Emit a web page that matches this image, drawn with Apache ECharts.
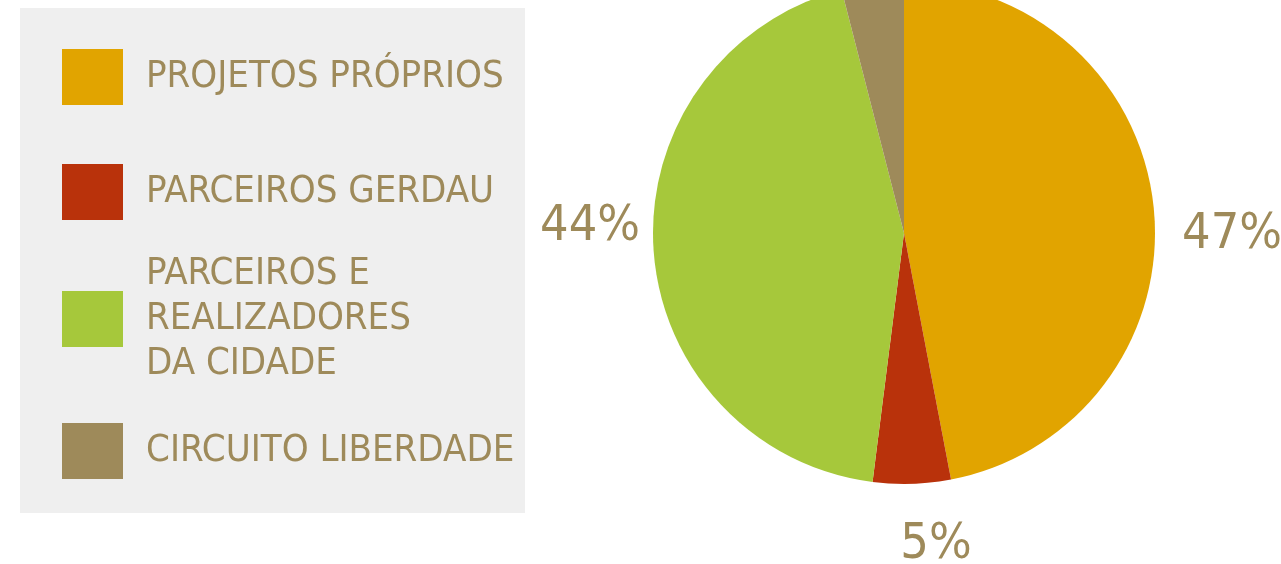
<!DOCTYPE html>
<html>
<head>
<meta charset="utf-8">
<script src="https://cdn.jsdelivr.net/npm/echarts@6/dist/echarts.min.js"></script>
<style>
  html, body { margin: 0; padding: 0; background: #fff; }
  #chart { width: 1281px; height: 564px; }
</style>
</head>
<body>
<div id="chart"></div>
<script>
// slice names and shares (%)
const categories = ['PROJETOS PRÓPRIOS', 'PARCEIROS GERDAU', 'PARCEIROS E\nREALIZADORES\nDA CIDADE', 'CIRCUITO LIBERDADE']
const shares = [47, 5, 44, 4]
const sliceColors = ['#e1a400', '#b9320b', '#a6c83b', '#9e8a5a']
const textColor = '#9e8a5a'
const fontFamily = '"Liberation Sans Narrow", "DejaVu Sans Condensed", Roboto, sans-serif'

// vertical centre of each legend swatch
const legendCenters = [77, 192, 319, 451]
// label anchor points (text centre); null = label hidden
const labelSpots = [[1232, 235], [936, 545], [590, 227], null]

const chart = echarts.init(document.getElementById('chart'))

const legends = categories.map((name, i) => {
  const lines = name.split('\n').length
  // multi-line text sits a little lower than the swatch
  const nudge = lines > 1 ? 10 : 0
  const half = Math.max(28, (lines * 45 + nudge) / 2)
  return {
    data: [name],
    left: 62,
    top: legendCenters[i] - half,
    padding: 0,
    orient: 'vertical',
    icon: 'rect',
    itemWidth: 61,
    itemHeight: 56,
    selectedMode: false,
    textStyle: {
      color: textColor,
      fontFamily: fontFamily,
      fontSize: 38,
      lineHeight: 45,
      padding: [nudge, 0, 0, 18],
    },
  }
})

chart.setOption({
  backgroundColor: '#ffffff',
  animation: false,
  graphic: [
    {
      type: 'rect',
      z: -10,
      shape: { x: 20, y: 8, width: 505, height: 505 },
      style: { fill: '#efefef' },
    },
  ],
  legend: legends,
  series: [
    {
      type: 'pie',
      center: [904, 233],
      radius: 251,
      startAngle: 90,
      clockwise: true,
      color: sliceColors,
      labelLine: { show: false },
      label: {
        show: true,
        position: 'outside',
        overflow: 'none',
        color: textColor,
        fontFamily: fontFamily,
        fontSize: 50,
        formatter: '{c}%',
      },
      labelLayout: (params) => {
        const spot = labelSpots[params.dataIndex]
        if (!spot) return { x: -1000, y: -1000 }
        return { x: spot[0], y: spot[1], align: 'center', verticalAlign: 'middle' }
      },
      data: categories.map((name, i) => ({ name: name, value: shares[i] })),
    },
  ],
})
</script>
</body>
</html>
